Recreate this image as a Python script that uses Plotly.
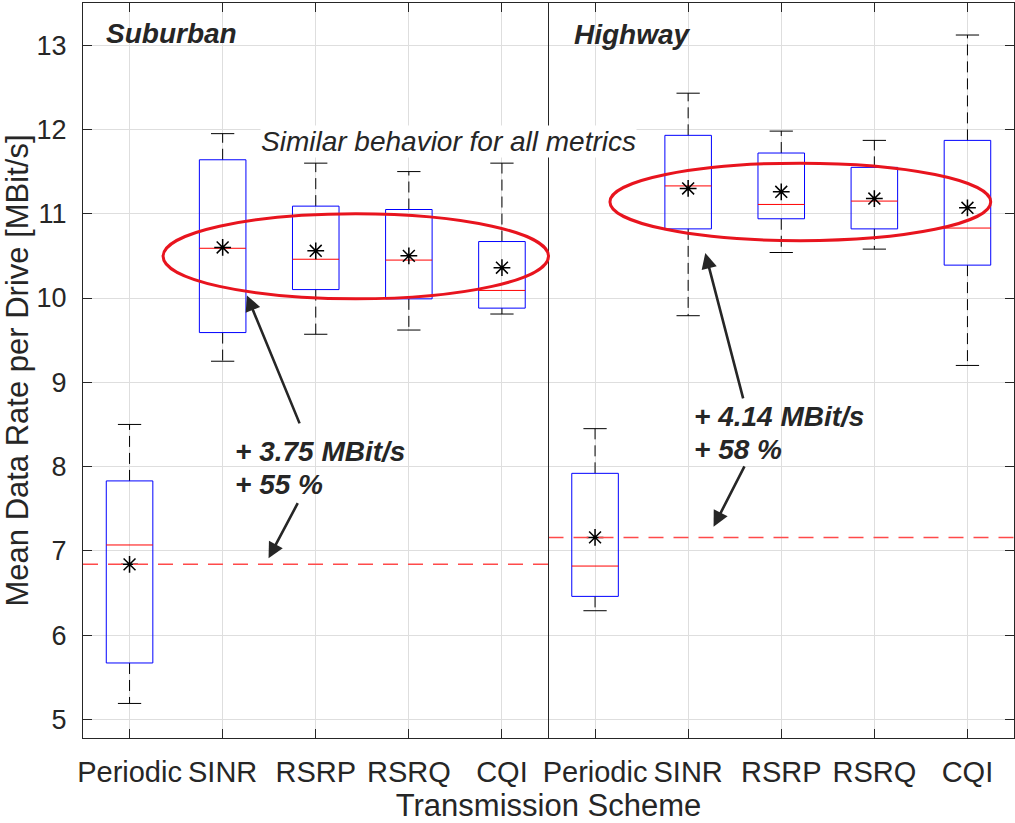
import plotly.graph_objects as go

# ---------------- data ----------------
categories = ["Periodic", "SINR", "RSRP", "RSRQ", "CQI",
              "Periodic", "SINR", "RSRP", "RSRQ", "CQI"]
scenarios = ["Suburban", "Highway"]
whisker_low = [5.19, 9.25, 9.57, 9.62, 9.81, 6.29, 9.79, 10.54, 10.58, 9.20]
q1 = [5.67, 9.59, 10.10, 9.99, 9.88, 6.46, 10.82, 10.94, 10.82, 10.39]
median = [7.07, 10.59, 10.46, 10.45, 10.09, 6.82, 11.33, 11.11, 11.15, 10.83]
q3 = [7.83, 11.64, 11.09, 11.05, 10.67, 7.92, 11.93, 11.72, 11.55, 11.87]
whisker_high = [8.50, 11.95, 11.60, 11.50, 11.60, 8.45, 12.43, 11.98, 11.87, 13.12]
mean = [6.84, 10.60, 10.56, 10.50, 10.36, 7.16, 11.30, 11.26, 11.18, 11.07]
periodic_baseline = [6.84, 7.16]          # Suburban, Highway
gain_text = [["+ 3.75 MBit/s", "+ 55 %"], ["+ 4.14 MBit/s", "+ 58 %"]]
# highlighted regions (ellipses): x0, x1, y0, y1
highlight_sub = [1.36, 5.50, 9.99, 11.00]
highlight_hwy = [6.16, 10.25, 10.68, 11.60]
y_ticks = [5, 6, 7, 8, 9, 10, 11, 12, 13]

positions = list(range(1, len(categories) + 1))
HALF_BOX = 0.25
HALF_CAP = 0.125
TXT = "#262626"
FONT = "Liberation Sans, Arial, Helvetica, sans-serif"

# ---------------- build segments ----------------
bx, by = [], []
mx, my = [], []
wx, wy = [], []
cx, cy = [], []
for p, a, m, b, lo, hi in zip(positions, q1, median, q3, whisker_low, whisker_high):
    bx += [p - HALF_BOX, p + HALF_BOX, p + HALF_BOX, p - HALF_BOX, p - HALF_BOX, None]
    by += [a, a, b, b, a, None]
    mx += [p - HALF_BOX, p + HALF_BOX, None]
    my += [m, m, None]
    wx += [p, p, None, p, p, None]
    wy += [b, hi, None, a, lo, None]
    cx += [p - HALF_CAP, p + HALF_CAP, None, p - HALF_CAP, p + HALF_CAP, None]
    cy += [hi, hi, None, lo, lo, None]

fig = go.Figure()
fig.add_trace(go.Scatter(x=wx, y=wy, mode="lines", line=dict(color="black", width=1, dash="11px,6px"),
                         hoverinfo="skip", showlegend=False))
fig.add_trace(go.Scatter(x=cx, y=cy, mode="lines", line=dict(color="black", width=1),
                         hoverinfo="skip", showlegend=False))
fig.add_trace(go.Scatter(x=bx, y=by, mode="lines", line=dict(color="#0000ff", width=1),
                         hoverinfo="skip", showlegend=False))
fig.add_trace(go.Scatter(x=mx, y=my, mode="lines", line=dict(color="#ff0000", width=1),
                         hoverinfo="skip", showlegend=False))
fig.add_trace(go.Scatter(x=positions, y=mean, mode="markers",
                         marker=dict(symbol="asterisk-open", size=14, color="black",
                                     line=dict(color="black", width=1.5)),
                         showlegend=False))

# baseline dashed lines (mean of periodic)
for i, val in enumerate(periodic_baseline):
    fig.add_shape(type="line", xref="x", yref="y", x0=0.5 + 5 * i, x1=5.5 + 5 * i, y0=val, y1=val,
                  line=dict(color="#ff4a4a", width=1.5, dash="15px,10px"), layer="above")

# divider
fig.add_shape(type="line", xref="x", yref="paper", x0=5.5, x1=5.5, y0=0, y1=1,
              line=dict(color=TXT, width=1))

# ellipses
for h in (highlight_sub, highlight_hwy):
    fig.add_shape(type="circle", xref="x", yref="y", x0=h[0], x1=h[1], y0=h[2], y1=h[3],
                  line=dict(color="#e8141e", width=3))

ann = []
# scenario titles
ann.append(dict(x=0.73, y=13.14, text="<b><i>Suburban</i></b>", xanchor="left", yanchor="middle"))
ann.append(dict(x=5.75, y=13.13, text="<b><i>Highway</i></b>", xanchor="left", yanchor="middle"))
ann.append(dict(x=2.40, y=11.856, text="<i>Similar behavior for all metrics</i>", xanchor="left",
                yanchor="middle", bgcolor="white", borderpad=0))
# gain texts
for (x, y1, y2), txt in zip([(2.107, 8.178, 7.783), (7.041, 8.594, 8.198)], gain_text):
    ann.append(dict(x=x, y=y1, text="<b><i>" + txt[0] + "</i></b>", xanchor="left", yanchor="middle"))
    ann.append(dict(x=x, y=y2, text="<b><i>" + txt[1] + "</i></b>", xanchor="left", yanchor="middle"))
for a in ann:
    a.update(xref="x", yref="y", showarrow=False, font=dict(family=FONT, size=28, color=TXT))

# arrows (tail -> tip)
arrows = [((2.833, 8.495), (2.261, 10.03)),
          ((2.815, 7.584), (2.493, 6.912)),
          ((7.595, 8.792), (7.184, 10.534)),
          ((7.613, 8.02), (7.273, 7.287))]
for (tx, ty), (hx, hy) in arrows:
    ann.append(dict(x=hx, y=hy, ax=tx, ay=ty, xref="x", yref="y", axref="x", ayref="y",
                    text="", showarrow=True, arrowhead=2, arrowsize=1.2, arrowwidth=2.6,
                    arrowcolor=TXT, standoff=0))

fig.update_layout(
    width=1015, height=823,
    margin=dict(l=83, r=1, t=3, b=85),
    paper_bgcolor="white", plot_bgcolor="white",
    font=dict(family=FONT, color=TXT),
    annotations=ann,
    showlegend=False,
)
fig.update_xaxes(
    range=[0.5, 10.5], tickvals=positions, ticktext=categories,
    showgrid=True, gridcolor="#dedede", gridwidth=1, zeroline=False,
    showline=True, linecolor=TXT, linewidth=1, mirror="ticks",
    ticks="inside", ticklen=9, tickcolor=TXT,
    tickfont=dict(family=FONT, size=29, color=TXT), ticklabelstandoff=8,
    title=dict(text="Transmission Scheme", font=dict(family=FONT, size=31, color=TXT), standoff=10),
)
fig.update_yaxes(
    range=[4.78, 13.5], tickvals=y_ticks,
    showgrid=True, gridcolor="#dedede", gridwidth=1, zeroline=False,
    showline=True, linecolor=TXT, linewidth=1, mirror="ticks",
    ticks="inside", ticklen=9, tickcolor=TXT,
    tickfont=dict(family=FONT, size=27, color=TXT), ticklabelstandoff=10,
    title=dict(text="Mean Data Rate per Drive [MBit/s]", font=dict(family=FONT, size=31, color=TXT), standoff=6),
)

fig.write_html("out.html")
